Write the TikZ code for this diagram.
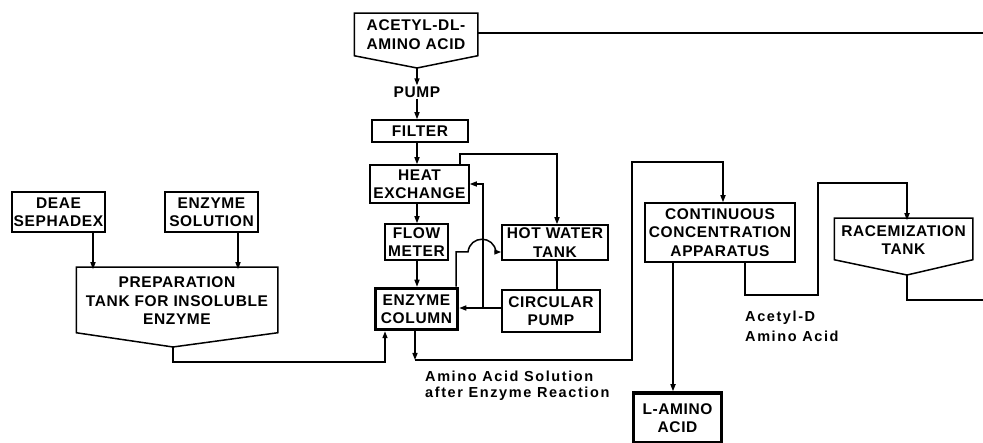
\documentclass[tikz,border=0pt]{standalone}
\usepackage{fontspec}
\setmainfont{Liberation Sans}[LetterSpace=4]
\newfontfamily\labfont{Liberation Sans}[LetterSpace=11]
\usetikzlibrary{arrows.meta,calc}
\begin{document}
\begin{tikzpicture}[x=1pt,y=-1pt,
  conn/.style={line width=1.5pt},
  arr/.style={conn,-{Triangle[length=7pt,width=5pt]}},
  box/.style={draw,line width=1.5pt,inner sep=0pt,align=center,
    font=\fontsize{15.5}{18.5}\selectfont\bfseries},
  tankbox/.style={box,draw=none},
  heavybox/.style={box,line width=3.5pt},
  plain/.style={inner sep=1pt,align=center,font=\fontsize{15.5}{18.5}\selectfont\bfseries},
  lab/.style={inner sep=0pt,align=left,font=\labfont\fontsize{14.5}{16}\selectfont\bfseries},
  outline/.style={line width=1.5pt,line join=miter}]
\useasboundingbox (0,0) rectangle (983,443);
% nodes
\node[tankbox,minimum width=122pt,minimum height=41pt] (acetyl) at (416,34.5) {ACETYL-DL-\\AMINO ACID};
\coordinate (acetylP) at (417,68);
\draw[outline] (acetyl.north west) -- (acetyl.north east) -- (acetyl.south east) -- (acetylP) -- (acetyl.south west) -- cycle;
\node[plain] (pump) at (417,92) {PUMP};
\node[box,minimum width=96pt,minimum height=22pt] (filter) at (420,131) {FILTER};
\node[box,minimum width=99pt,minimum height=38pt] (heat) at (419.5,184) {HEAT\\EXCHANGE};
\node[box,minimum width=63pt,minimum height=36pt] (flow) at (416.5,242) {FLOW\\METER};
\node[box,minimum width=106pt,minimum height=35pt] (hot) at (555,242.5) {HOT WATER\\TANK};
\node[heavybox,minimum width=82pt,minimum height=41pt] (enzcol) at (416.5,309) {ENZYME\\COLUMN};
\node[box,minimum width=98pt,minimum height=42pt] (circ) at (551,311) {CIRCULAR\\PUMP};
\node[tankbox,minimum width=200pt,minimum height=62pt] (prep) at (177,301) {PREPARATION\\TANK FOR INSOLUBLE\\ENZYME};
\coordinate (prepP) at (173,347);
\draw[outline] ($(prep.north west)+(0,-2)$) -- ($(prep.north east)+(0,-2)$) -- (prep.south east) -- (prepP) -- (prep.south west) -- cycle;
\node[box,minimum width=93pt,minimum height=40pt] (deae) at (58.5,212) {DEAE\\SEPHADEX};
\node[box,minimum width=93pt,minimum height=40pt] (enzsol) at (211.5,212) {ENZYME\\SOLUTION};
\node[box,minimum width=150pt,minimum height=59pt] (conc) at (720,232.5) {CONTINUOUS\\CONCENTRATION\\APPARATUS};
\node[heavybox,minimum width=88pt,minimum height=50pt] (lamino) at (677.5,418) {L-AMINO\\ACID};
\node[tankbox,minimum width=137pt,minimum height=38pt] (racem) at (903.5,240) {RACEMIZATION\\TANK};
\coordinate (racemP) at (907,275);
\draw[outline] ($(racem.north west)+(0,-2)$) -- ($(racem.north east)+(0,-2)$) -- (racem.south east) -- (racemP) -- (racem.south west) -- cycle;
\node[lab,anchor=north west] (lab1) at (425,371) {Amino Acid Solution\\after Enzyme Reaction};
\node[lab,anchor=north west,font=\labfont\fontsize{14.5}{20}\selectfont\bfseries] (lab2) at (745,311) {Acetyl-D\\Amino Acid};
% helper coordinates
\coordinate (ax) at (417,0);
\coordinate (outR1) at (983,33);
\coordinate (outR2) at (983,300);
\coordinate (hx) at (460,154);
\coordinate (hw) at (557,0);
\coordinate (jn) at (483,308);
\coordinate (h0) at (456,252);
\coordinate (c385) at (385,362);
\coordinate (d1) at (415,360);
\coordinate (r1) at (632,360);
\coordinate (r2) at (632,162);
\coordinate (cx) at (723,162);
\coordinate (lx) at (673,0);
\coordinate (q0) at (745,295);
\coordinate (q1) at (818,295);
\coordinate (q2) at (818,183);
\coordinate (q3) at (907,183);
\coordinate (s1) at (907,300);
\coordinate (e1) at (93,0);
\coordinate (e2) at (238,0);
% connectors
\draw[conn] (acetyl.east |- outR1) -- (outR1);
\draw[arr] (acetylP) -- (pump.north);
\draw[arr] (pump.south) -- (filter.north -| ax);
\draw[arr] (filter.south -| ax) -- (heat.north -| ax);
\draw[arr] (heat.south -| ax) -- (flow.north -| ax);
\draw[arr] (flow.south -| ax) -- (enzcol.north -| ax);
\draw[arr] (heat.north -| hx) -- (hx) -| (hot.north -| hw);
\draw[conn] (hot.south -| hw) -- (circ.north -| hw);
\draw[arr] (circ.west |- jn) -- (enzcol.east |- jn);
\draw[arr] (jn) |- (heat.east);
\draw[arr] (enzcol.north -| h0) -- (h0) -- (468,252) .. controls (470,235) and (494,235) .. (496,252) -- (hot.west |- h0);
\draw[arr] (prepP) |- (c385) -- (enzcol.south -| c385);
\draw[arr] (enzcol.south -| d1) -- (d1);
\draw[arr] (d1) -- (r1) -- (r2) -- (cx) -- (conc.north -| cx);
\draw[arr] (conc.south -| lx) -- (lamino.north -| lx);
\draw[arr] (conc.south -| q0) -- (q0) -- (q1) -- (q2) -- (q3) -- (racem.north -| q3);
\draw[conn] (racemP) -- (s1) -- (outR2);
\draw[arr] (deae.south -| e1) -- (prep.north -| e1);
\draw[arr] (enzsol.south -| e2) -- (prep.north -| e2);
\end{tikzpicture}
\end{document}
